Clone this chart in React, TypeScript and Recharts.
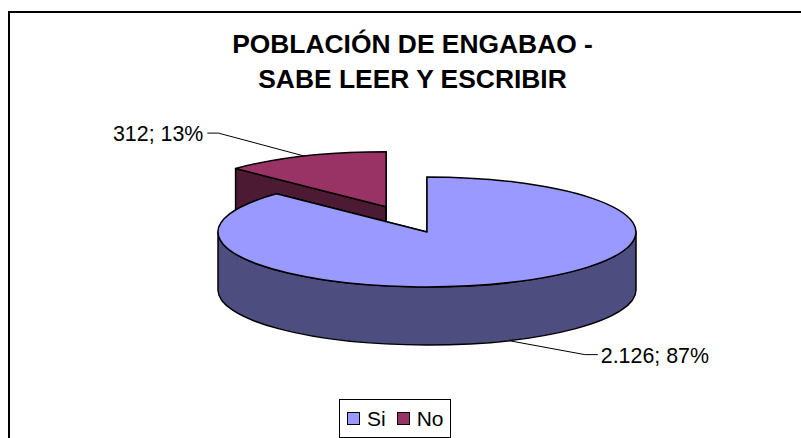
import { PieChart, Pie, Legend } from "recharts";

const CATEGORIES = ["No", "Si"];
const VALUES = [312, 2126];
const EXPLODE = [0.5, 0];
const TOP_COLORS = ["#993366", "#9999FF"];
const SIDE_COLORS = ["#4D1A33", "#4D4D80"];
const LEGEND_ORDER = ["Si", "No"];
const TITLE_LINES = ["POBLACIÓN DE ENGABAO -", "SABE LEER Y ESCRIBIR"];

const data = CATEGORIES.map((name, i) => ({
  name,
  value: VALUES[i],
  explode: EXPLODE[i],
  fill: TOP_COLORS[i],
  side: SIDE_COLORS[i],
}));

const FONT = '"Liberation Sans", Arial, sans-serif';
const WIDTH = 801;
const HEIGHT = 438;
const CX = 427;
const CY = 232;
const RX = 209;
const RY = 55;
const DEPTH = 58;

const rad = (deg: number) => (deg * Math.PI) / 180;

// flatten the polar angle onto the tilted disc
const onDisc = (cx: number, cy: number, deg: number) => ({
  x: cx + RX * Math.cos(rad(deg)),
  y: cy - RY * Math.sin(rad(deg)),
});

const sliceCenter = (start: number, end: number, explode: number) => {
  const mid = (start + end) / 2;
  return {
    x: CX + explode * RX * Math.cos(rad(mid)),
    y: CY - explode * RY * Math.sin(rad(mid)),
  };
};

function Slice3D(props: any) {
  const { startAngle, endAngle, payload, fill } = props;
  const explode = payload?.explode ?? props.explode ?? 0;
  const side = payload?.side ?? props.side;
  const c = sliceCenter(startAngle, endAngle, explode);
  const a = onDisc(c.x, c.y, startAngle);
  const b = onDisc(c.x, c.y, endAngle);
  const large = Math.abs(startAngle - endAngle) > 180 ? 1 : 0;
  const top = `M${c.x},${c.y} L${a.x},${a.y} A${RX},${RY} 0 ${large} 1 ${b.x},${b.y} Z`;

  const face = (p: { x: number; y: number }) =>
    `M${c.x},${c.y} L${p.x},${p.y} L${p.x},${p.y + DEPTH} L${c.x},${c.y + DEPTH} Z`;

  // outer wall only exists on the front half of the disc (0 to -180)
  const wallFrom = Math.min(startAngle, 0);
  const wallTo = Math.max(endAngle, -180);
  let wall = null;
  if (wallFrom > wallTo) {
    const p = onDisc(c.x, c.y, wallFrom);
    const q = onDisc(c.x, c.y, wallTo);
    wall =
      `M${p.x},${p.y} A${RX},${RY} 0 0 1 ${q.x},${q.y} ` +
      `L${q.x},${q.y + DEPTH} A${RX},${RY} 0 0 0 ${p.x},${p.y + DEPTH} Z`;
  }

  const line = { stroke: "#000", strokeWidth: 1.5, strokeLinejoin: "round" as const };
  return (
    <g>
      <path d={face(a)} fill={side} {...line} />
      <path d={face(b)} fill={side} {...line} />
      {wall && <path d={wall} fill={side} {...line} />}
      <path d={top} fill={fill} {...line} />
    </g>
  );
}

const formatValue = (v: number) => String(v).replace(/\B(?=(\d{3})+$)/g, ".");

function SliceLabel(props: any) {
  const { midAngle, value, percent, payload } = props;
  const explode = payload?.explode ?? props.explode ?? 0;
  const text = `${formatValue(value)}; ${Math.round(percent * 100)}%`;
  const c = {
    x: CX + explode * RX * Math.cos(rad(midAngle)),
    y: CY - explode * RY * Math.sin(rad(midAngle)),
  };
  const p = onDisc(c.x, c.y, midAngle);
  // front slices hang their leader from the bottom of the wall
  const front = Math.sin(rad(midAngle)) < 0;
  const startY = front ? p.y + DEPTH : p.y;
  const elbowX = front ? p.x + 76 : p.x - 86;
  const elbowY = front ? startY + 14 : startY - 23;
  const endX = front ? elbowX + 13 : elbowX - 11;
  return (
    <g>
      <polyline
        points={`${p.x},${startY} ${elbowX},${elbowY} ${endX},${elbowY}`}
        fill="none"
        stroke="#000"
        strokeWidth={1}
      />
      <text
        x={front ? endX + 3 : endX - 4}
        y={elbowY + 8}
        textAnchor={front ? "start" : "end"}
        fontFamily={FONT}
        fontSize={21.4}
        fill="#000"
      >
        {text}
      </text>
    </g>
  );
}

function LegendBox() {
  return (
    <div
      style={{
        boxSizing: "border-box",
        width: 112,
        height: 39,
        border: "1px solid #000",
        background: "#fff",
        display: "flex",
        alignItems: "center",
        paddingLeft: 7,
        fontFamily: FONT,
        fontSize: 21,
        color: "#000",
      }}
    >
      {LEGEND_ORDER.map((name) => (
        <span key={name} style={{ display: "flex", alignItems: "center", marginRight: 11 }}>
          <span
            style={{
              boxSizing: "border-box",
              width: 13,
              height: 13,
              border: "1.5px solid #000",
              marginRight: 7,
              background: TOP_COLORS[CATEGORIES.indexOf(name)],
            }}
          />
          {name}
        </span>
      ))}
    </div>
  );
}

export default function App() {
  return (
    <div style={{ position: "absolute", left: 0, top: 0, width: WIDTH, height: HEIGHT, overflow: "hidden", background: "#fff" }}>
      <div
        style={{
          position: "absolute",
          left: 8,
          top: 11,
          width: WIDTH,
          height: HEIGHT,
          borderLeft: "2px solid #000",
          borderTop: "2px solid #000",
        }}
      />
      <PieChart width={WIDTH} height={HEIGHT} margin={{ top: 0, right: 0, bottom: 0, left: 0 }}>
        <text textAnchor="middle" fontFamily={FONT} fontWeight="bold" fontSize={26.4} fill="#000">
          <tspan x={412.5} y={53}>{TITLE_LINES[0]}</tspan>
          <tspan x={412.5} y={88}>{TITLE_LINES[1]}</tspan>
        </text>
        <Pie
          data={data}
          dataKey="value"
          nameKey="name"
          cx={CX}
          cy={CY}
          innerRadius={0}
          outerRadius={RX}
          startAngle={90 + (VALUES[0] / (VALUES[0] + VALUES[1])) * 360}
          endAngle={90 + (VALUES[0] / (VALUES[0] + VALUES[1])) * 360 - 360}
          paddingAngle={0}
          stroke="none"
          shape={Slice3D}
          label={SliceLabel}
          labelLine={false}
          isAnimationActive={false}
        />
        <Legend
          content={<LegendBox />}
          wrapperStyle={{ left: 339, top: 399, bottom: "auto", width: 112, height: 39 }}
        />
      </PieChart>
    </div>
  );
}
